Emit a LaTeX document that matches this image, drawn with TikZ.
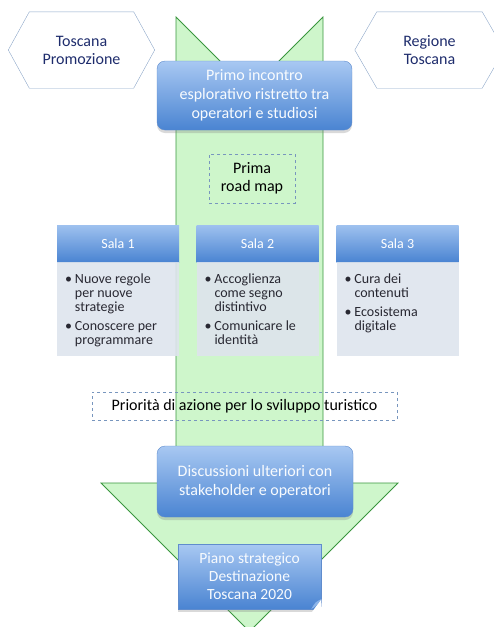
\documentclass[tikz,border=0pt]{standalone}
\usepackage{fontspec}
\setmainfont{Carlito}
\usepackage{tikz}
\usetikzlibrary{shadows}
\usepackage{xcolor}
\definecolor{ArrFill}{RGB}{206,246,203}
\definecolor{ArrLine}{RGB}{58,150,62}
\definecolor{BoxTop}{RGB}{168,200,242}
\definecolor{BoxBot}{RGB}{74,132,210}
\definecolor{BoxEdge}{RGB}{96,140,205}
\definecolor{HexLine}{RGB}{140,166,200}
\definecolor{HexText}{RGB}{30,44,108}
\definecolor{DashCol}{RGB}{120,150,190}
\definecolor{BodyFill}{RGB}{222,228,237}
\definecolor{BodyText}{RGB}{40,40,50}
\tikzstyle{BlueBox}=[rectangle,rounded corners=8pt,draw=BoxEdge,thin,top color=BoxTop,
bottom color=BoxBot,text=white!92!BoxTop,align=center,font=\fontsize{16}{19}\selectfont,
drop shadow={opacity=.3,shadow xshift=0pt,shadow yshift=-3pt}]
\tikzstyle{PlanBox}=[BlueBox,rounded corners=0pt,font=\fontsize{15.5}{18}\selectfont]
\tikzstyle{HexBox}=[rectangle,inner sep=0pt,text=HexText,align=center,
font=\fontsize{16}{18}\selectfont]
\tikzstyle{HexEdge}=[HexLine,thin,line join=round]
\tikzstyle{DashBox}=[rectangle,draw=DashCol,dashed,thin,inner sep=0pt,align=center,
font=\fontsize{16}{18}\selectfont]
\tikzstyle{SalaHead}=[rectangle,inner sep=0pt,minimum width=122pt,minimum height=37pt,
top color=BoxTop!90!BoxBot,bottom color=BoxBot,text=white,font=\fontsize{14}{16}\selectfont]
\tikzstyle{SalaBody}=[rectangle,inner sep=0pt,minimum width=122pt,minimum height=94pt,
fill=BodyFill,fill opacity=.9,text opacity=1,text=BodyText,anchor=north]
\newcommand{\Bul}{\makebox[10pt][l]{\textbullet}}
\newcommand{\Ind}{\hspace*{10pt}}
\newenvironment{SalaList}{\begin{minipage}[c][94pt][t]{112pt}\fontsize{14}{14}\selectfont
    \raggedright\leftskip=3pt\vspace*{11pt}}{\end{minipage}}

\begin{document}
\begin{tikzpicture}[x=1pt,y=-1pt]
        \useasboundingbox (0,0) rectangle (494,627);
        % big green arrow
        \fill[ArrFill,draw=ArrLine,thick,line join=miter](176,17)--(249.5,90.5)--(323,17)--(323,483)
            --(398,483)--(249.5,631.5)--(101,483)--(176,483)--cycle;
        % top row
        \node[HexBox,minimum width=104pt,minimum height=76pt](tp)at(81.5,50){Toscana\\Promozione};
        \draw[HexEdge](tp.north west)--(tp.north east)--([xshift=21pt]tp.east)--(tp.south east)
            --(tp.south west)--([xshift=-21pt]tp.west)--cycle;
        \node[HexBox,minimum width=105pt,minimum height=76pt](rt)at(429.5,50){Regione\\Toscana};
        \draw[HexEdge](rt.north west)--(rt.north east)--([xshift=22pt]rt.east)--(rt.south east)
            --(rt.south west)--([xshift=-22pt]rt.west)--cycle;
        \node[BlueBox,minimum width=195pt,minimum height=69pt](primo)at(254.5,95.5)
            {Primo incontro\\esplorativo ristretto tra\\operatori e studiosi};
        \node[DashBox,minimum width=86pt,minimum height=49pt,text=black](road)at(252,178.5)
            {Prima\\road map};
        % sale
        \node[SalaHead](s1)at(118,243.5){Sala 1};
        \node[SalaHead](s2)at(257.5,243.5){Sala 2};
        \node[SalaHead](s3)at(397.5,243.5){Sala 3};
        \node[SalaBody](b1)at(s1.south){\begin{SalaList}
            \Bul Nuove regole\\\Ind per nuove\\\Ind strategie\\[5pt]
            \Bul Conoscere per\\\Ind programmare\end{SalaList}};
        \node[SalaBody](b2)at(s2.south){\begin{SalaList}
            \Bul Accoglienza\\\Ind come segno\\\Ind distintivo\\[5pt]
            \Bul Comunicare le\\\Ind identità\end{SalaList}};
        \node[SalaBody](b3)at(s3.south){\begin{SalaList}
            \Bul Cura dei\\\Ind contenuti\\[5pt]
            \Bul Ecosistema\\\Ind digitale\end{SalaList}};
        \node[DashBox,minimum width=305pt,minimum height=28pt,text=black](prio)at(244.5,406)
            {Priorità di azione per lo sviluppo turistico};
        % bottom
        \node[BlueBox,minimum width=196pt,minimum height=71pt](disc)at(255,481.5)
            {Discussioni ulteriori con\\stakeholder e operatori};
        \node[PlanBox,minimum width=143pt,minimum height=65pt](plan)at(249.5,576.5)
            {Piano strategico\\Destinazione\\Toscana 2020};
        \fill[white]([yshift=10pt]plan.south east)--([xshift=1pt,yshift=-4pt]plan.south east)
            --([xshift=-10pt,yshift=-4pt]plan.south east)--cycle;
        \fill[BoxTop!70!BoxBot]([yshift=10pt]plan.south east)
            ..controls([xshift=-6pt,yshift=7pt]plan.south east)..([xshift=-10pt]plan.south east)
            ..controls([xshift=-5pt,yshift=3pt]plan.south east)..cycle;
    \end{tikzpicture}
\end{document}
